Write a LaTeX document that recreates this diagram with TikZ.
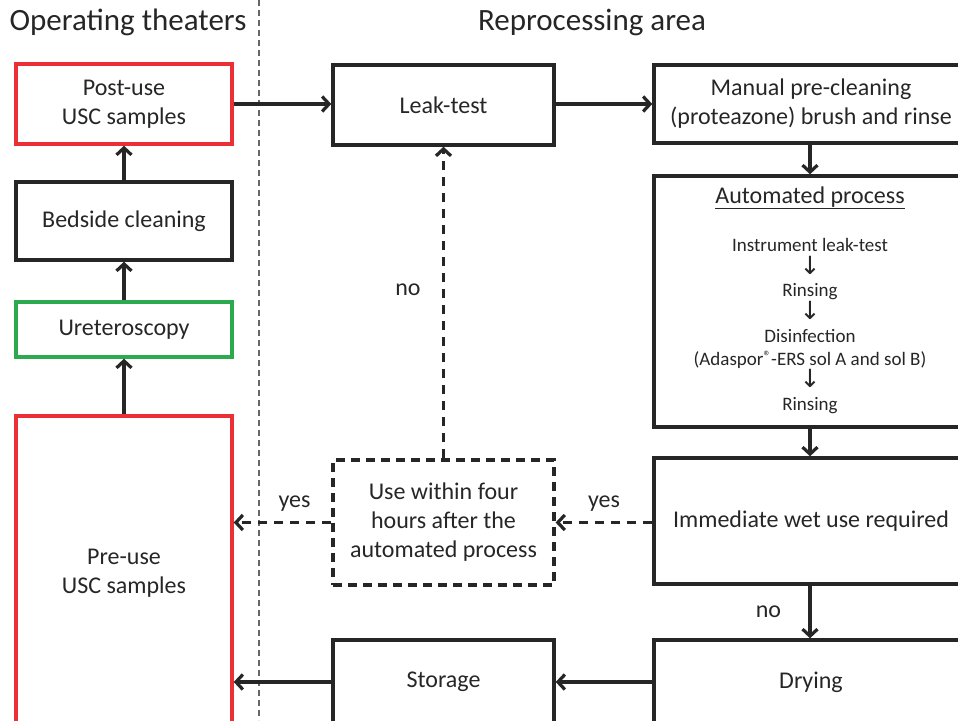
\documentclass[tikz,border=0pt]{standalone}
\usepackage{fontspec}
\setmainfont{Carlito}
\newfontfamily\symfont{DejaVu Sans}
\usetikzlibrary{arrows.meta}
\definecolor{ink}{HTML}{262626}
\definecolor{boxred}{HTML}{EC2F35}
\definecolor{boxgreen}{HTML}{2DAA4F}
\tikzset{
  box/.style={draw=ink, line width=3.4pt, align=center, text=ink, inner sep=0pt,
    font=\fontsize{24}{29}\selectfont},
  redbox/.style={box, draw=boxred},
  greenbox/.style={box, draw=boxgreen},
  dashbox/.style={box, line width=3.2pt, dash pattern=on 9pt off 6pt},
  conn/.style={draw=ink, line width=3.2pt, -{Straight Barb[length=7pt,width=15pt,line width=3.2pt]}},
  dconn/.style={conn, dash pattern=on 9pt off 7pt},
  lbl/.style={text=ink, font=\fontsize{24}{28}\selectfont},
  ttl/.style={text=ink, font=\fontsize{31}{34}\selectfont},
  small/.style={text=ink, align=center, font=\fontsize{19}{22.7}\selectfont}
}
\newcommand{\dnarrow}{{\symfont\fontsize{25}{22.7}\selectfont ↓}}
\begin{document}
\begin{tikzpicture}[x=1pt,y=-1pt]
\useasboundingbox (0,0) rectangle (958,720);
\clip (0,0) rectangle (958,720);
% divider
\draw[gray!80!black, line width=1.4pt, dash pattern=on 6pt off 4pt] (259,0) -- (259,720);
% titles
\node[ttl] (t1) at (128,22) {Operating theaters};
\node[ttl] (t2) at (592,22) {Reprocessing area};
% left column
\node[redbox, minimum width=216pt, minimum height=80pt] (post) at (124,104) {Post-use\\USC samples};
\node[box, minimum width=216pt, minimum height=78pt] (bed) at (124,221) {Bedside cleaning};
\node[greenbox, minimum width=216pt, minimum height=55pt] (uret) at (124,329.5) {Ureteroscopy};
\node[redbox, minimum width=216pt, minimum height=314pt] (pre) at (124,573) {Pre-use\\USC samples};
% middle column
\node[box, minimum width=221pt, minimum height=80pt] (leak) at (443.5,105) {Leak-test};
\node[dashbox, minimum width=221pt, minimum height=125pt] (use) at (443.5,522.5) {Use within four\\hours after the\\automated process};
\node[box, minimum width=221pt, minimum height=84pt] (stor) at (443.5,682) {Storage};
% right column
\node[box, minimum width=314pt, minimum height=78pt] (man) at (811,104) {Manual pre-cleaning\\(proteazone) brush and rinse};
\node[box, minimum width=314pt, minimum height=251pt] (auto) at (811,301.5) {};
\node[lbl] (autot) at (810,198) {\underline{Automated process}};
\node[small] (steps) at (810,326) {Instrument leak-test\\\dnarrow\\Rinsing\\\dnarrow\\Disinfection\\(Adaspor{\fontsize{15}{15}\selectfont\raisebox{0.45ex}{®}}-ERS sol A and sol B)\\\dnarrow\\Rinsing};
\node[box, minimum width=314pt, minimum height=126pt] (imm) at (811,521) {Immediate wet use required};
\node[box, minimum width=314pt, minimum height=84pt] (dry) at (811,682) {Drying};
% connectors
\draw[conn] (pre.north) -- (uret.south);
\draw[conn] (uret.north) -- (bed.south);
\draw[conn] (bed.north) -- (post.south);
\draw[conn] (post.east) -- (post.east -| leak.west);
\draw[conn] (leak.east |- man.west) -- (man.west);
\draw[conn] (man.south -| autot) -- (auto.north -| autot);
\draw[conn] (auto.south -| autot) -- (imm.north -| autot);
\draw[conn] (imm.south -| autot) -- node[lbl, left, xshift=-24pt] (lno) {no} (dry.north -| autot);
\draw[conn] (dry.west) -- (stor.east);
\draw[conn] (stor.west) -- (pre.east |- stor.west);
\draw[dconn] (imm.west |- use.east) -- node[lbl, above, yshift=6pt] (lyes1) {yes} (use.east);
\draw[dconn] (use.west) -- node[lbl, above, yshift=6pt, xshift=12pt] (lyes2) {yes} (pre.east |- use.west);
\draw[dconn] (use.north) -- node[lbl, left, xshift=-18pt, pos=0.54] (lno2) {no} (leak.south);
\end{tikzpicture}
\end{document}
